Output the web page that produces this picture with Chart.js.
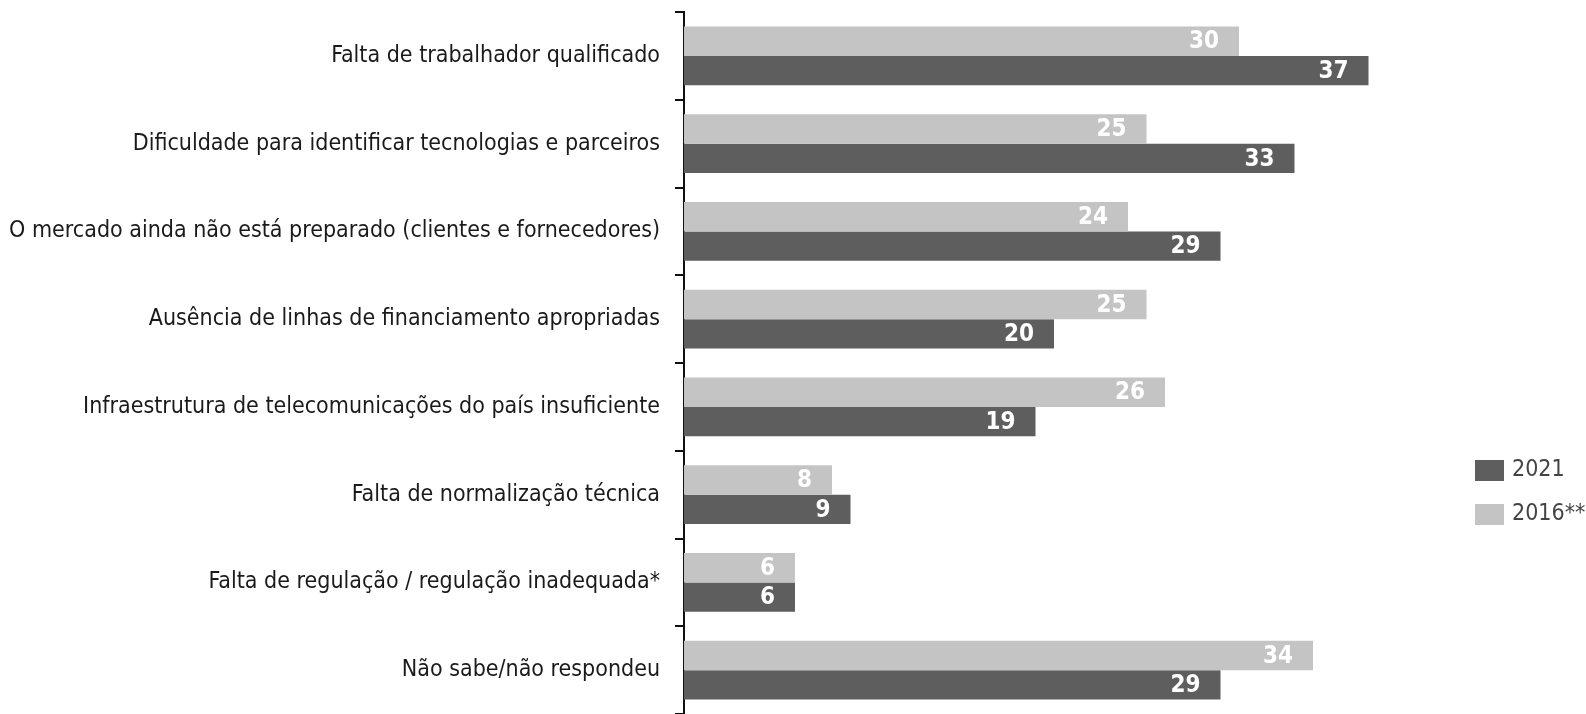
<!DOCTYPE html>
<html>
<head>
<meta charset="utf-8">
<script src="https://cdn.jsdelivr.net/npm/chart.js@4"></script>
<style>
html,body{margin:0;padding:0;background:#fff;}
#wrap{width:1586px;height:714px;position:relative;}
</style>
</head>
<body>
<div id="wrap"><canvas id="chart"></canvas></div>
<script>
const categories = [
  "Falta de trabalhador qualificado",
  "Dificuldade para identificar tecnologias e parceiros",
  "O mercado ainda não está preparado (clientes e fornecedores)",
  "Ausência de linhas de financiamento apropriadas",
  "Infraestrutura de telecomunicações do país insuficiente",
  "Falta de normalização técnica",
  "Falta de regulação / regulação inadequada*",
  "Não sabe/não respondeu"
];
const values2016 = [30, 25, 24, 25, 26, 8, 6, 34];
const values2021 = [37, 33, 29, 20, 19, 9, 6, 29];
const seriesNames = ["2016**", "2021"];

const FONT = "'Liberation Sans Narrow', 'DejaVu Sans Condensed', sans-serif";

// white numbers at the end of every bar
const valueLabels = {
  id: "valueLabels",
  afterDatasetsDraw(chart) {
    const ctx = chart.ctx;
    ctx.save();
    ctx.fillStyle = "#ffffff";
    ctx.font = "bold 24px " + FONT;
    ctx.textAlign = "right";
    ctx.textBaseline = "middle";
    chart.data.datasets.forEach((ds, i) => {
      chart.getDatasetMeta(i).data.forEach((bar, j) => {
        ctx.fillText(ds.data[j], bar.x - 20, bar.y + 1);
      });
    });
    ctx.restore();
  }
};

// legend on the right, 2021 first
const sideLegend = {
  id: "sideLegend",
  afterDraw(chart) {
    const ctx = chart.ctx;
    const items = [1, 0];
    ctx.save();
    ctx.font = "23px " + FONT;
    ctx.textBaseline = "middle";
    items.forEach((di, k) => {
      const ds = chart.data.datasets[di];
      const y = 460 + k * 44;
      ctx.fillStyle = ds.backgroundColor;
      ctx.fillRect(1475, y, 29, 21);
      ctx.fillStyle = "#444";
      ctx.fillText(ds.label, 1512, y + 10);
    });
    ctx.restore();
  }
};

new Chart(document.getElementById("chart"), {
  type: "bar",
  data: {
    labels: categories,
    datasets: [
      { label: seriesNames[0], data: values2016, backgroundColor: "#c4c4c4" },
      { label: seriesNames[1], data: values2021, backgroundColor: "#5e5e5e" }
    ]
  },
  options: {
    indexAxis: "y",
    responsive: true,
    maintainAspectRatio: false,
    animation: false,
    layout: { padding: { top: 12, right: 162, bottom: 0, left: 0 } },
    datasets: { bar: { categoryPercentage: 0.67, barPercentage: 1.0 } },
    scales: {
      x: { display: false, min: 0, max: 40 },
      y: {
        afterFit(scale) { scale.width = 684; scale.paddingTop = 0; scale.paddingBottom = 0; },
        border: { display: true, color: "#111", width: 2 },
        grid: { offset: true, drawOnChartArea: false, drawTicks: true, tickLength: 9, color: "#111", lineWidth: 2 },
        ticks: { color: "#1a1a1a", padding: 15, font: { family: FONT, size: 23 } }
      }
    },
    plugins: { legend: { display: false }, tooltip: { enabled: false } }
  },
  plugins: [valueLabels, sideLegend]
});
</script>
</body>
</html>
